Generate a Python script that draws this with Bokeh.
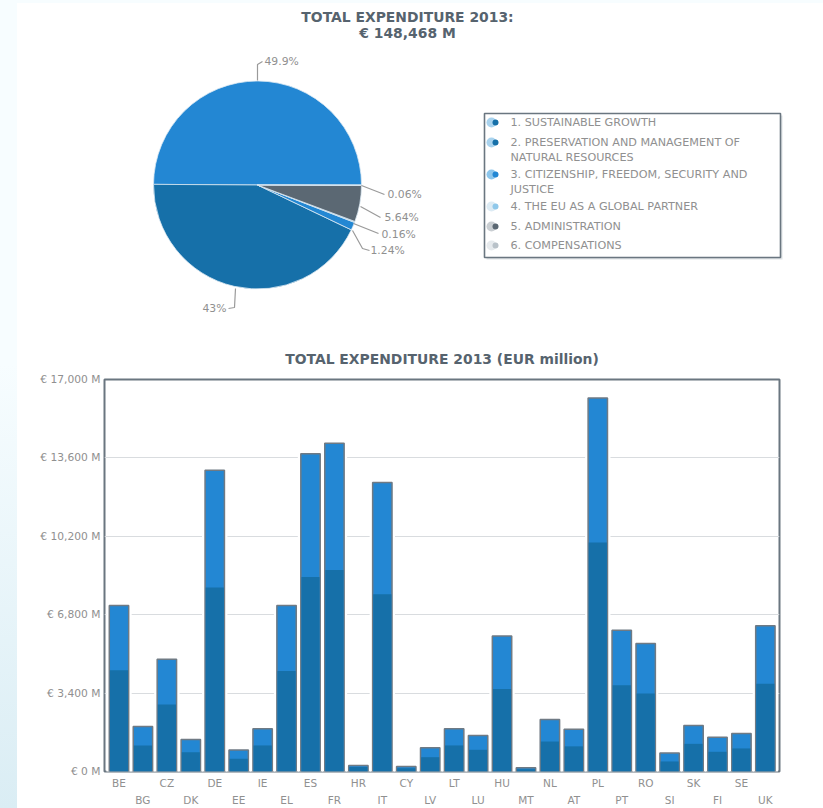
from bokeh.embed import file_html
from bokeh.resources import INLINE
from bokeh.plotting import figure
from bokeh.layouts import column
from bokeh.models import Range1d, LinearAxis, FixedTicker, ColumnDataSource
from bokeh.core.properties import value
import math

# ---- data ----
pie_title = ["TOTAL EXPENDITURE 2013:", "€ 148,468 M"]
pie_values = [49.9, 43.0, 1.24, 0.16, 5.64, 0.06]
pie_labels = ["49.9%", "43%", "1.24%", "0.16%", "5.64%", "0.06%"]
pie_colors = ["#2387d3", "#1670a9", "#2387d3", "#8fc8ea", "#5b6873", "#b9c2c9"]
legend_items = [
    ["1. SUSTAINABLE GROWTH"],
    ["2. PRESERVATION AND MANAGEMENT OF", "NATURAL RESOURCES"],
    ["3. CITIZENSHIP, FREEDOM, SECURITY AND", "JUSTICE"],
    ["4. THE EU AS A GLOBAL PARTNER"],
    ["5. ADMINISTRATION"],
    ["6. COMPENSATIONS"],
]
countries = ["BE", "BG", "CZ", "DK", "DE", "EE", "IE", "EL", "ES", "FR", "HR", "IT", "CY", "LV",
             "LT", "LU", "HU", "MT", "NL", "AT", "PL", "PT", "RO", "SI", "SK", "FI", "SE", "UK"]
total_values = [7200, 1950, 4870, 1390, 13060, 930, 1850, 7200, 13780, 14230, 260, 12530, 220, 1030,
                1850, 1560, 5880, 160, 2250, 1830, 16200, 6130, 5550, 800, 2000, 1490, 1650, 6320]
lower_values = [4390, 1130, 2910, 840, 7980, 550, 1130, 4360, 8430, 8740, 190, 7690, 145, 620,
                1130, 940, 3580, 100, 1300, 1090, 9930, 3740, 3380, 435, 1200, 855, 1000, 3810]
y_ticks = [0, 3400, 6800, 10200, 13600, 17000]
y_tick_labels = ["€ 0 M", "€ 3,400 M", "€ 6,800 M", "€ 10,200 M", "€ 13,600 M", "€ 17,000 M"]
bar_title = "TOTAL EXPENDITURE 2013 (EUR million)"

FONT = "DejaVu Sans"
TITLE_C = "#56636e"
TEXT_C = "#909090"
LEAD_C = "#9a9a9a"
FRAME_C = "#6a7680"
TOP_H = 336

# ---- top panel: coordinates follow the picture's pixels ----
top = figure(width=823, height=TOP_H, x_range=Range1d(0, 823), y_range=Range1d(TOP_H, 0),
             output_backend="svg", toolbar_location=None, min_border=0,
             x_axis_type=None, y_axis_type=None, frame_align=False)
top.grid.visible = False
top.outline_line_color = None
top.background_fill_color = None
top.border_fill_color = None

top.text(x=[407, 407], y=[16, 32], text=pie_title, text_align="center", text_baseline="middle",
         text_font=value(FONT), text_font_size="13.9px", text_font_style="bold", text_color=TITLE_C)

# pie: the first slice runs over the top to the west
start = 0.0
starts, ends = [], []
for v in pie_values:
    end = start + v / sum(pie_values) * 2 * math.pi
    starts.append(start)
    ends.append(end)
    start = end
top.wedge(x=257, y=184.5, radius=104, start_angle=starts, end_angle=ends, direction="anticlock",
          fill_color=pie_colors, line_color="#dbe9f3", line_width=0.8)

# label placement
leaders = {
    "49.9%": ([257, 257, 262], [80, 64, 61], 264, 61, "left"),
    "43%": ([235, 234, 228], [288, 307, 308], 226, 308, "right"),
    "1.24%": ([352, 362, 369], [230, 248, 250], 370, 250, "left"),
    "0.16%": ([353, 378], [223, 233], 381, 234, "left"),
    "5.64%": ([360, 380], [206, 217], 384, 217, "left"),
    "0.06%": ([361, 384], [185, 194], 387, 194, "left"),
}
for lab in pie_labels:
    xs, ys, tx, ty, al = leaders[lab]
    top.line(xs, ys, line_color=LEAD_C, line_width=1.2)
    top.text(x=[tx], y=[ty], text=[lab], text_align=al, text_baseline="middle",
             text_font=value(FONT), text_font_size="10.8px", text_color=TEXT_C)

# legend box
top.quad(left=486, right=782, top=115, bottom=259, fill_color="#dfe3e6", line_color=None)
top.quad(left=484, right=780, top=113, bottom=257, fill_color="white", line_color=FRAME_C, line_width=1.6)
legend_y = [122, 142, 174, 206, 226, 245]
legend_line2 = [None, 157, 189, None, None, None]
light_icon = ["#a9d3ee", "#a9d3ee", "#8cc6ec", "#dcebf4", "#c9ced2", "#e6eaed"]
dark_icon = ["#1670a9", "#1670a9", "#2387d3", "#8fc8ea", "#5b6873", "#b9c2c9"]
for i, item in enumerate(legend_items):
    y = legend_y[i]
    top.scatter(x=[491], y=[y], size=10, marker="circle", fill_color=light_icon[i], line_color=None)
    top.scatter(x=[495], y=[y], size=6, marker="circle", fill_color=dark_icon[i], line_color=None)
    top.text(x=[510], y=[y], text=[item[0]], text_baseline="middle", text_font=value(FONT),
             text_font_size="11.2px", text_color=TEXT_C)
    if len(item) > 1:
        top.text(x=[510], y=[legend_line2[i]], text=[item[1]], text_baseline="middle",
                 text_font=value(FONT), text_font_size="11.2px", text_color=TEXT_C)

# ---- bottom panel ----
idx = list(range(len(countries)))
src = ColumnDataSource(dict(x=idx, total=total_values, lower=lower_values))
bot = figure(width=823, height=808 - TOP_H, x_range=Range1d(-0.605, 27.59), y_range=Range1d(0, 17000),
             output_backend="svg", toolbar_location=None, x_axis_type=None, y_axis_location="left",
             min_border_left=104, min_border_right=44, min_border_top=0, min_border_bottom=0,
             frame_width=675, frame_height=392, frame_align=False, title=bar_title)
bot.title.align = "center"
bot.title.text_font = FONT
bot.title.text_font_size = "13.9px"
bot.title.text_font_style = "bold"
bot.title.text_color = TITLE_C
bot.title.standoff = 25
bot.border_fill_color = None
bot.background_fill_color = "white"
bot.outline_line_color = FRAME_C
bot.outline_line_width = 2

yax = bot.yaxis[0]
yax.ticker = FixedTicker(ticks=y_ticks)
yax.major_label_overrides = dict(zip(y_ticks, y_tick_labels))
yax.major_label_text_font = FONT
yax.major_label_text_font_size = "10.7px"
yax.major_label_text_color = TEXT_C
yax.major_label_standoff = 4
yax.major_tick_out = 0
yax.major_tick_in = 0
yax.axis_line_color = None
yax.major_tick_line_color = None
yax.minor_tick_line_color = None
bot.xgrid.visible = False
bot.ygrid.ticker = FixedTicker(ticks=y_ticks[1:-1])
bot.ygrid.grid_line_color = "#d9dcdf"
bot.ygrid.grid_line_width = 1

for offset, standoff in ((0, 5), (1, 2)):
    ticks = idx[offset::2]
    ax = LinearAxis(ticker=FixedTicker(ticks=ticks),
                    major_label_overrides={t: countries[t] for t in ticks})
    ax.major_label_text_font = FONT
    ax.major_label_text_font_size = "10.5px"
    ax.major_label_text_color = TEXT_C
    ax.major_label_standoff = standoff
    ax.major_tick_out = 0
    ax.major_tick_in = 0
    ax.axis_line_color = None
    ax.major_tick_line_color = None
    ax.minor_tick_line_color = None
    bot.add_layout(ax, "below")

bot.vbar(x="x", top="total", width=0.81, bottom=0, source=src, fill_color=None,
         line_color="white", line_width=6)
bot.vbar(x="x", top="total", width=0.81, bottom=0, source=src, fill_color="#2387d3",
         line_color="#6f7a84", line_width=1.5)
bot.vbar(x="x", top="lower", width=0.76, bottom=0, source=src, fill_color="#1670a9", line_color=None)

page = column(top, bot, spacing=0)
html = file_html(page, INLINE)
strip = ("<body style=\"background:linear-gradient(to bottom,#f7fdff 0,#f7fdff 45%,#daedf4 100%) "
         "left top/17px 100% no-repeat,linear-gradient(#f7fdff,#f7fdff) left top/100% 3px no-repeat,white;\">")
html = html.replace("<body>", strip)
open("out.html", "w").write(html)
